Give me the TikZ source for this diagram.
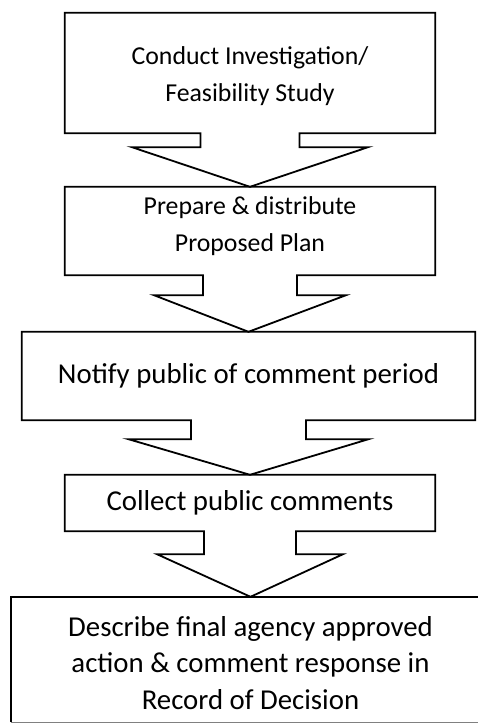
\documentclass[tikz,border=0pt]{standalone}
\usepackage{fontspec}
\setmainfont{Carlito}
\usetikzlibrary{calc}

\tikzset{
  stepbox/.style={minimum width=370pt, inner sep=0pt, align=center,
    font=\fontsize{25.8}{37}\selectfont},
  bigtext/.style={font=\fontsize{28.8}{36.5}\selectfont},
  callout/.style={line width=1.8pt, line join=miter}
}

\begin{document}
\begin{tikzpicture}[x=1pt,y=1pt]
	\useasboundingbox (0,0) rectangle (478,-723);
	\clip (0,0) rectangle (478,-723);

	% the five steps
	\node[stepbox, minimum height=120pt] (investigate) at (250,-73)
		{\rule{0pt}{24.5pt}Conduct Investigation/\\Feasibility Study};
	\node[stepbox, minimum height=88pt] (plan) at (250,-231)
		{Prepare \& distribute\\Proposed Plan\rule[-13pt]{0pt}{0pt}};
	\node[stepbox, bigtext, minimum width=453pt, minimum height=88pt] (notify) at (248.5,-376)
		{Notify public of comment period};
	\node[stepbox, bigtext, minimum height=56pt] (collect) at (250,-503)
		{Collect public comments};
	\node[stepbox, bigtext, minimum width=479pt, minimum height=125pt] (decide) at (250.5,-659.5)
		{\rule{0pt}{27pt}Describe final agency approved\\action \& comment response in\\Record of Decision};

	% draw the down arrow callouts
	\foreach \a/\b/\s/\w/\d in {investigate/plan/49.5/118/14, plan/notify/47/96/20,
			notify/collect/57.5/120/19, collect/decide/46/93/23} {
		\draw[callout] ($(\a.south)+(-\s,0)$) -- (\a.south west) -- (\a.north west)
			-- (\a.north east) -- (\a.south east) -- ($(\a.south)+(\s,0)$)
			-- ($(\a.south)+(\s,-\d)$) -- ($(\a.south)+(\w,-\d)$) -- (\b.north)
			-- ($(\a.south)+(-\w,-\d)$) -- ($(\a.south)+(-\s,-\d)$) -- cycle;
	}

	% last box runs off the page
	\draw[callout] (decide.north east) -- (decide.north west) -- (decide.south west);
	\draw[gray, thin] (decide.south west) -- (decide.south east);

\end{tikzpicture}
\end{document}
